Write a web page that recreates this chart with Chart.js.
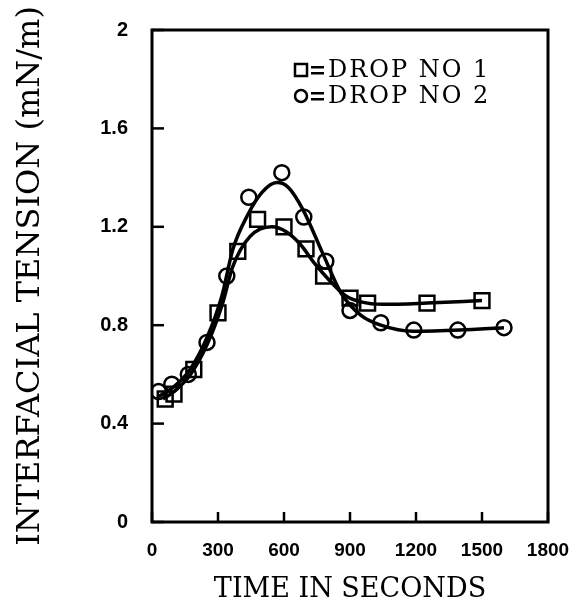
<!DOCTYPE html>
<html>
<head>
<meta charset="utf-8">
<script src="https://cdn.jsdelivr.net/npm/chart.js@4"></script>
<style>
  html, body { margin: 0; padding: 0; background: #fff; }
  #wrap { width: 582px; height: 610px; }
</style>
</head>
<body>
<div id="wrap"><canvas id="grafico" width="582" height="610"></canvas></div>
<script>
// valores (tempo em s, tensão em mN/m)
const tempoGota1 = [60, 100, 190, 300, 390, 480, 600, 700, 780, 900, 980, 1250, 1500];
const tensaoGota1 = [0.50, 0.52, 0.62, 0.85, 1.10, 1.23, 1.20, 1.11, 1.00, 0.91, 0.89, 0.89, 0.90];
const tempoGota2 = [30, 90, 165, 250, 340, 440, 590, 690, 790, 900, 1040, 1190, 1390, 1600];
const tensaoGota2 = [0.53, 0.56, 0.60, 0.73, 1.00, 1.32, 1.42, 1.24, 1.06, 0.86, 0.81, 0.78, 0.78, 0.79];

const tempoCurva1 = [50, 100, 175, 250, 318, 368, 445, 545, 610, 673, 740, 809, 880, 950, 1050, 1250, 1500];
const tensaoCurva1 = [0.50, 0.53, 0.60, 0.72, 0.88, 1.04, 1.16, 1.20, 1.18, 1.13, 1.05, 0.98, 0.92, 0.895, 0.885, 0.89, 0.90];
const tempoCurva2 = [30, 100, 173, 250, 318, 368, 436, 500, 568, 620, 686, 777, 860, 950, 1040, 1190, 1400, 1600];
const tensaoCurva2 = [0.51, 0.55, 0.62, 0.75, 0.92, 1.11, 1.25, 1.34, 1.38, 1.36, 1.27, 1.09, 0.93, 0.84, 0.80, 0.775, 0.78, 0.79];

const ticksX = [0, 300, 600, 900, 1200, 1500, 1800];
const ticksY = [0, 0.4, 0.8, 1.2, 1.6, 2];
const legendaTextos = ['DROP NO 1', 'DROP NO 2'];

const pares = (xs, ys) => xs.map((x, i) => ({ x: x, y: ys[i] }));

// moldura, marcas internas e legenda
const molduraPlugin = {
    id: 'moldura',
    afterDraw(chart) {
        const ctx = chart.ctx;
        const a = chart.chartArea;
        const sx = chart.scales.x;
        const sy = chart.scales.y;
        ctx.save();
        ctx.strokeStyle = '#000';
        ctx.lineWidth = 3;
        ctx.strokeRect(a.left, a.top, a.right - a.left, a.bottom - a.top);
        ctx.lineWidth = 2.5;
        ticksX.forEach(v => {
            const px = sx.getPixelForValue(v);
            ctx.beginPath();
            ctx.moveTo(px, a.bottom);
            ctx.lineTo(px, a.bottom - 10);
            ctx.stroke();
        });
        ticksY.forEach(v => {
            const py = sy.getPixelForValue(v);
            ctx.beginPath();
            ctx.moveTo(a.left, py);
            ctx.lineTo(a.left + 12, py);
            ctx.stroke();
        });

        // legenda
        ctx.lineWidth = 2.5;
        ctx.fillStyle = '#000';
        const lx = 301, ly1 = 70, ly2 = 96;
        ctx.strokeRect(lx - 6, ly1 - 6, 12, 12);
        ctx.beginPath();
        ctx.arc(lx, ly2, 6, 0, Math.PI * 2);
        ctx.stroke();
        // sinal de igual
        [ly1, ly2].forEach(y => {
            ctx.fillRect(311, y - 4, 13, 2.5);
            ctx.fillRect(311, y + 2, 13, 2.5);
        });
        ctx.font = '24px "DejaVu Serif"';
        ctx.letterSpacing = '2px';
        ctx.textBaseline = 'middle';
        ctx.textAlign = 'left';
        ctx.fillText(legendaTextos[0], 328, ly1 + 1);
        ctx.fillText(legendaTextos[1], 328, ly2 + 1);
        ctx.restore();
    }
};

new Chart(document.getElementById('grafico'), {
    type: 'scatter',
    data: {
        datasets: [
            {
                label: 'curva 1',
                data: pares(tempoCurva1, tensaoCurva1),
                showLine: true,
                borderColor: '#000',
                borderWidth: 3.5,
                pointRadius: 0,
                tension: 0.4,
                cubicInterpolationMode: 'monotone'
            },
            {
                label: 'curva 2',
                data: pares(tempoCurva2, tensaoCurva2),
                showLine: true,
                borderColor: '#000',
                borderWidth: 3.5,
                pointRadius: 0,
                tension: 0.4,
                cubicInterpolationMode: 'monotone'
            },
            {
                label: 'DROP NO 1',
                data: pares(tempoGota1, tensaoGota1),
                pointStyle: 'rect',
                pointRadius: 10.5,
                borderColor: '#000',
                backgroundColor: 'rgba(255,255,255,0)',
                borderWidth: 2.5
            },
            {
                label: 'DROP NO 2',
                data: pares(tempoGota2, tensaoGota2),
                pointStyle: 'circle',
                pointRadius: 7.5,
                borderColor: '#000',
                backgroundColor: 'rgba(255,255,255,0)',
                borderWidth: 2.5
            }
        ]
    },
    options: {
        responsive: false,
        animation: false,
        layout: { padding: { top: 30, right: 34, left: 0, bottom: 0 } },
        plugins: {
            legend: { display: false },
            tooltip: { enabled: false }
        },
        scales: {
            x: {
                type: 'linear',
                min: 0,
                max: 1800,
                afterBuildTicks: s => { s.ticks = ticksX.map(v => ({ value: v })); },
                afterFit: s => {
                    s.height = 88;
                    s.paddingLeft = 0;
                    s.paddingRight = 0;
                },
                grid: { display: false, drawTicks: false },
                border: { display: false },
                ticks: {
                    color: '#000',
                    padding: 17,
                    maxRotation: 0,
                    autoSkip: false,
                    font: { family: '"Liberation Sans"', size: 19, weight: 'bold' },
                    callback: v => String(v)
                },
                title: {
                    display: true,
                    text: 'TIME IN SECONDS',
                    color: '#000',
                    padding: { top: 1 },
                    font: { family: '"DejaVu Serif"', size: 27 }
                }
            },
            y: {
                type: 'linear',
                min: 0,
                max: 2,
                afterBuildTicks: s => { s.ticks = ticksY.map(v => ({ value: v })); },
                afterFit: s => {
                    s.width = 152;
                    s.paddingTop = 0;
                    s.paddingBottom = 0;
                },
                grid: { display: false, drawTicks: false },
                border: { display: false },
                ticks: {
                    color: '#000',
                    padding: 24,
                    autoSkip: false,
                    font: { family: '"Liberation Sans"', size: 20, weight: 'bold' },
                    callback: v => String(v)
                },
                title: {
                    display: true,
                    text: 'INTERFACIAL TENSION (mN/m)',
                    color: '#000',
                    padding: { top: 11, bottom: 0 },
                    font: { family: '"DejaVu Serif"', size: 32 }
                }
            }
        }
    },
    plugins: [molduraPlugin]
});
</script>
</body>
</html>
